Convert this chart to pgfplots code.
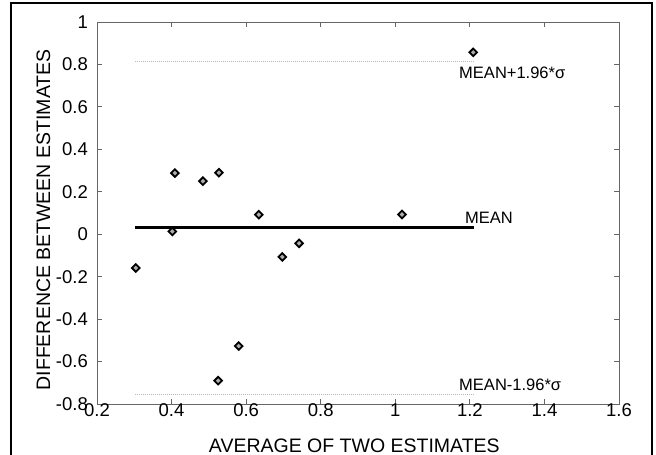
\documentclass[border=0pt]{standalone}
\usepackage{fontspec}
\setmainfont{Liberation Sans}
\usepackage{pgfplots}
\pgfplotsset{compat=1.18}

\begin{document}
\begin{tikzpicture}
\useasboundingbox (-97pt,-51pt) rectangle (559pt,404pt);
\begin{axis}[
    scale only axis,
    width=522pt, height=382pt,
    xmin=0.2, xmax=1.6, ymin=-0.8, ymax=1,
    xtick={0.2,0.4,0.6,0.8,1,1.2,1.4,1.6},
    ytick={-0.8,-0.6,-0.4,-0.2,0,0.2,0.4,0.6,0.8,1},
    tick align=inside,
    major tick length=5pt,
    axis line style={gray!80!black, line width=0.9pt},
    tick style={gray!80!black, line width=0.8pt},
    /pgf/number format/assume math mode=true,
    /pgf/number format/fixed,
    /pgf/number format/precision=1,
    tick label style={font=\fontsize{18.5}{18.5}\selectfont, inner sep=0pt},
    xticklabel style={anchor=base, yshift=-12pt},
    yticklabel style={anchor=east, xshift=-9pt},
    xlabel={AVERAGE OF TWO ESTIMATES},
    ylabel={DIFFERENCE BETWEEN ESTIMATES},
    label style={font=\fontsize{19.5}{19.5}\selectfont, inner sep=0pt},
    xlabel style={at={(axis description cs:0.493,-0.1257)}, anchor=base},
    ylabel style={at={(axis description cs:-0.1025,0.482)}, anchor=center},
    clip=false,
]
% limits of agreement
\addplot[gray!55, dash pattern=on 1pt off 1pt, line width=1.6pt] coordinates {(0.302,0.813) (1.211,0.813)};
\addplot[gray!55, dash pattern=on 1pt off 1pt, line width=1.6pt] coordinates {(0.302,-0.756) (1.211,-0.756)};
% mean
\addplot[black, line width=3.2pt] coordinates {(0.302,0.03) (1.211,0.03)};
% points
\addplot[only marks, mark=square*, mark size=2.7pt,
    mark options={rotate=45, fill=gray!65, draw=black, line width=1.8pt}] coordinates {
    (0.304,-0.159) (0.402,0.013) (0.409,0.288) (0.484,0.25)
    (0.527,0.290) (0.525,-0.690) (0.580,-0.527) (0.634,0.092)
    (0.697,-0.107) (0.742,-0.043) (1.018,0.093) (1.209,0.857)
};
\node[anchor=west, inner sep=0pt, font=\fontsize{16.5}{16.5}\selectfont] at (axis cs:1.171,0.759) {MEAN+1.96*σ};
\node[anchor=west, inner sep=0pt, font=\fontsize{16.5}{16.5}\selectfont] at (axis cs:1.187,0.077) {MEAN};
\node[anchor=west, inner sep=0pt, font=\fontsize{16.5}{16.5}\selectfont] at (axis cs:1.171,-0.708) {MEAN-1.96*σ};
\end{axis}
\draw[black, line width=2pt] (-86pt,-60pt) -- (-86pt,401pt) -- (555pt,401pt) -- (555pt,-60pt);
\end{tikzpicture}
\end{document}
